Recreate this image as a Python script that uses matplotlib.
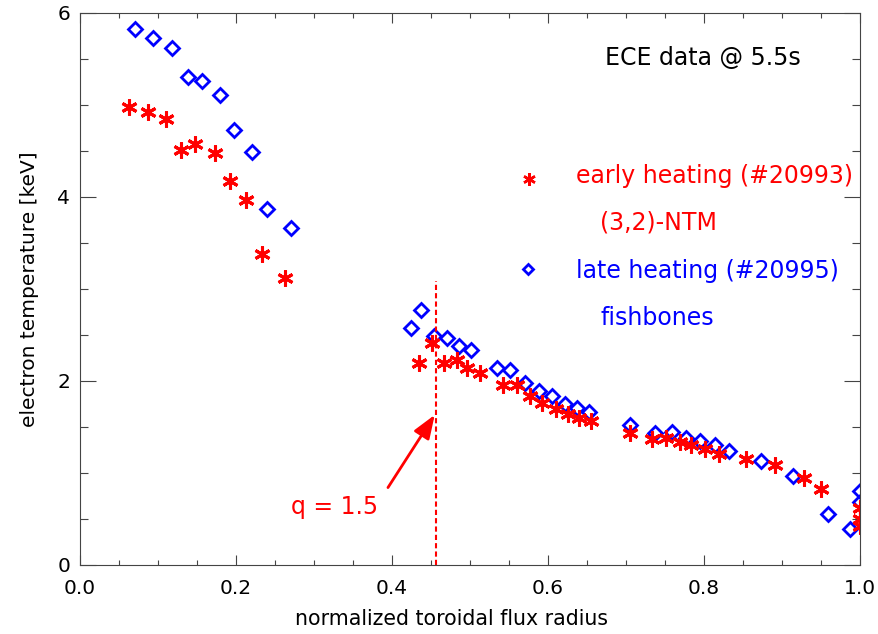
import numpy as np
import matplotlib
matplotlib.use("Agg")
from matplotlib import pyplot as plt
from matplotlib.ticker import MultipleLocator

# early heating (#20993), red asterisks
x_early = [0.063, 0.087, 0.110, 0.130, 0.148, 0.173, 0.192, 0.213, 0.234, 0.263,
           0.435, 0.451, 0.467, 0.483, 0.496, 0.513, 0.543, 0.560, 0.577, 0.593,
           0.610, 0.626, 0.640, 0.655, 0.706, 0.734, 0.751, 0.769, 0.784, 0.801,
           0.819, 0.854, 0.892, 0.929, 0.951, 1.0, 1.0, 1.0]
te_early = [4.97, 4.92, 4.84, 4.51, 4.57, 4.48, 4.17, 3.97, 3.38, 3.12,
            2.19, 2.41, 2.19, 2.23, 2.14, 2.09, 1.96, 1.95, 1.84, 1.76,
            1.69, 1.64, 1.60, 1.56, 1.43, 1.37, 1.38, 1.34, 1.30, 1.26,
            1.21, 1.15, 1.08, 0.94, 0.83, 0.62, 0.50, 0.42]

# late heating (#20995), blue diamonds
x_late = [0.070, 0.094, 0.118, 0.138, 0.157, 0.180, 0.197, 0.220, 0.240, 0.270,
          0.425, 0.438, 0.454, 0.471, 0.486, 0.502, 0.535, 0.552, 0.571, 0.589,
          0.606, 0.622, 0.637, 0.653, 0.706, 0.738, 0.759, 0.777, 0.795, 0.815,
          0.833, 0.874, 0.914, 0.960, 0.987, 1.0, 1.0]
te_late = [5.82, 5.72, 5.62, 5.30, 5.26, 5.11, 4.72, 4.49, 3.87, 3.66,
           2.57, 2.77, 2.49, 2.47, 2.38, 2.33, 2.14, 2.12, 1.98, 1.89,
           1.83, 1.75, 1.71, 1.66, 1.52, 1.43, 1.44, 1.38, 1.35, 1.30,
           1.24, 1.13, 0.97, 0.55, 0.39, 0.80, 0.68]

# q = 1.5 surface
x_q15 = 0.457
q_line_top = 3.08

star = (6, 2, 0)
red = "#ff0000"
blue = "#0000ff"

fig = plt.figure(figsize=(8.79, 6.34), dpi=100)
ax = fig.add_axes([0.091, 0.109, 0.887, 0.871])

ax.plot(x_late, te_late, linestyle="none", marker="D", ms=7, mfc="none",
        mec=blue, mew=2.0)
ax.plot(x_early, te_early, linestyle="none", marker=star, ms=11.5,
        mec=red, mfc=red, mew=2.2)

# q = 1.5 marker line and arrow
ax.plot([x_q15, x_q15], [0, q_line_top], color=red, lw=1.5,
        linestyle=(0, (2.5, 1.5)))
ax.annotate("", xy=(0.455, 1.63), xytext=(0.395, 0.84),
            arrowprops=dict(arrowstyle="-|>,head_length=0.8,head_width=0.3",
                            color=red, lw=2, mutation_scale=18,
                            shrinkA=0, shrinkB=0))
ax.text(0.27, 0.554, "q = 1.5", color=red, fontsize=17, va="baseline")

# annotation / legend texts
ax.text(0.674, 5.435, "ECE data @ 5.5s", color="black", fontsize=17, va="baseline")
ax.plot([0.5756], [4.19], marker=star, ms=9, mec=red, mfc=red, mew=1.8,
        linestyle="none")
ax.text(0.636, 4.15, "early heating (#20993)", color=red, fontsize=17, va="baseline")
ax.text(0.667, 3.64, "(3,2)-NTM", color=red, fontsize=17, va="baseline")
ax.plot([0.574], [3.21], marker="D", ms=5.5, mfc="none", mec=blue, mew=2.0,
        linestyle="none")
ax.text(0.636, 3.12, "late heating (#20995)", color=blue, fontsize=17, va="baseline")
ax.text(0.667, 2.61, "fishbones", color=blue, fontsize=17, va="baseline")

ax.set_xlim(0, 1)
ax.set_ylim(0, 6)
ax.xaxis.set_major_locator(MultipleLocator(0.2))
ax.xaxis.set_minor_locator(MultipleLocator(0.05))
ax.yaxis.set_major_locator(MultipleLocator(2))
ax.yaxis.set_minor_locator(MultipleLocator(0.5))
ax.xaxis.set_major_formatter(matplotlib.ticker.FormatStrFormatter("%.1f"))
ax.yaxis.set_major_formatter(matplotlib.ticker.FormatStrFormatter("%d"))

ax.tick_params(which="both", direction="in", top=True, right=True,
               color="#444444", labelsize=14.5, width=0.8)
ax.tick_params(axis="x", which="major", length=7, pad=10)
ax.tick_params(axis="x", which="minor", length=3.6)
ax.tick_params(axis="y", which="major", length=11.5, pad=7)
ax.tick_params(axis="y", which="minor", length=5.8)
for s in ax.spines.values():
    s.set_color("#444444")
    s.set_linewidth(0.8)

ax.set_xlabel("normalized toroidal flux radius", fontsize=14.8)
ax.set_ylabel("electron temperature [keV]", fontsize=14.5)
ax.xaxis.set_label_coords(0.476, -0.079)
ax.yaxis.set_label_coords(-0.052, 0.5)

fig.savefig("out.png", dpi=100)
